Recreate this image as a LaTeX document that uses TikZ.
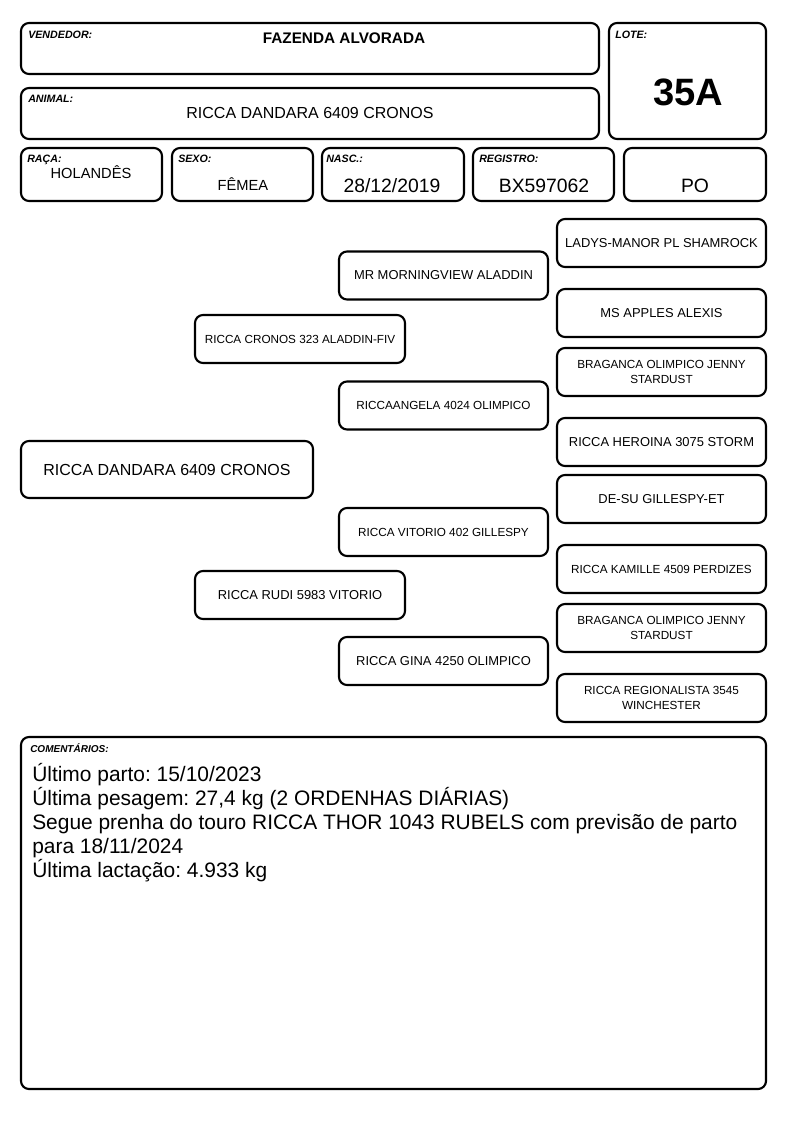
\documentclass[tikz,border=0pt]{standalone}
\usepackage{fontspec}
\setmainfont{Liberation Sans}
\usetikzlibrary{fit}
\frenchspacing

\begin{document}
\begin{tikzpicture}[x=0.75pt,y=-0.75pt,
    box/.style={draw,line width=1.6pt,rounded corners=6pt,inner sep=0pt},
    lbl/.style={font=\fontsize{8}{9}\selectfont\bfseries\itshape,anchor=base west,inner sep=0pt},
    val/.style={font=\fontsize{11}{13}\selectfont,inner sep=0pt},
    bigval/.style={font=\fontsize{14.5}{17}\selectfont,inner sep=0pt},
    ped/.style={box,align=center,minimum width=156.75pt,minimum height=36pt,font=\fontsize{9.7}{11.25}\selectfont},
    pedsm/.style={ped,font=\fontsize{8.8}{11.25}\selectfont}]
            \fill[white] (0,0) rectangle (794,1123);
            \useasboundingbox (0,0) rectangle (794,1123);
            \node[box,fit={(21,23) (599,74)}] (vend) {};
            \node[lbl] (vendl) at (28,39) {VENDEDOR:};
            \node[val,font=\fontsize{11.5}{13}\selectfont\bfseries] (vendv) at (344,38) {FAZENDA ALVORADA};
            \node[box,fit={(609,23) (766,139)}] (lote) {};
            \node[lbl] (lotel) at (615,39) {LOTE:};
            \node[val,font=\fontsize{28.6}{30}\selectfont\bfseries] (lotev) at (688,92) {35A};
            \node[box,fit={(21,88) (599,139)}] (anim) {};
            \node[lbl] (animl) at (28,103) {ANIMAL:};
            \node[val,font=\fontsize{12}{14}\selectfont] (animv) at (310,113) {RICCA DANDARA 6409 CRONOS};
            \node[box,fit={(21,148) (162,201)}] (raca) {};
            \node[lbl] (racal) at (27,163) {RAÇA:};
            \node[val] (racav) at (91,172) {HOLANDÊS};
            \node[box,fit={(172,148) (313,201)}] (sexo) {};
            \node[lbl] (sexol) at (178,163) {SEXO:};
            \node[val] (sexov) at (243,184) {FÊMEA};
            \node[box,fit={(322,148) (464,201)}] (nasc) {};
            \node[lbl] (nascl) at (326,163) {NASC.:};
            \node[bigval] (nascv) at (392,186) {28/12/2019};
            \node[box,fit={(473,148) (614,201)}] (reg) {};
            \node[lbl] (regl) at (479,163) {REGISTRO:};
            \node[bigval] (regv) at (544,186) {BX597062};
            \node[box,fit={(624,148) (766,201)}] (cat) {};
            \node[bigval] (catv) at (695,186) {PO};

            \node[ped,minimum width=219pt,minimum height=42.75pt,font=\fontsize{12}{14}\selectfont] (an) at (167,469.5) {RICCA DANDARA 6409 CRONOS};
            \node[pedsm,minimum width=157.5pt] (s) at (300,339) {RICCA CRONOS 323 ALADDIN-FIV};
            \node[ped,minimum width=157.5pt] (d) at (300,595) {RICCA RUDI 5983 VITORIO};
            \node[ped] (ss) at (443.5,275.5) {MR MORNINGVIEW ALADDIN};
            \node[pedsm] (sd) at (443.5,405.5) {RICCAANGELA 4024 OLIMPICO};
            \node[pedsm] (ds) at (443.5,532) {RICCA VITORIO 402 GILLESPY};
            \node[ped] (dd) at (443.5,661) {RICCA GINA 4250 OLIMPICO};
            \node[ped] (sss) at (661.5,243) {LADYS-MANOR PL SHAMROCK};
            \node[ped] (ssd) at (661.5,313) {MS APPLES ALEXIS};
            \node[pedsm] (sds) at (661.5,372) {BRAGANCA OLIMPICO JENNY\\STARDUST};
            \node[ped] (sdd) at (661.5,442) {RICCA HEROINA 3075 STORM};
            \node[ped] (dss) at (661.5,499) {DE-SU GILLESPY-ET};
            \node[pedsm] (dsd) at (661.5,569) {RICCA KAMILLE 4509 PERDIZES};
            \node[pedsm] (dds) at (661.5,628) {BRAGANCA OLIMPICO JENNY\\STARDUST};
            \node[pedsm] (ddd) at (661.5,698) {RICCA REGIONALISTA 3545\\WINCHESTER};

            \node[box,fit={(21,737) (766,1089)}] (com) {};
            \node[lbl,font=\fontsize{7.5}{9}\selectfont\bfseries\itshape] (coml) at (30,752) {COMENTÁRIOS:};
            \node[anchor=north west,inner sep=0pt,align=left,font=\fontsize{15.7}{18}\selectfont] (comv) at (32,763)
                {Último parto: 15/10/2023\\
                 Última pesagem: 27,4 kg (2 ORDENHAS DIÁRIAS)\\
                 Segue prenha do touro RICCA THOR 1043 RUBELS com previsão de parto\\
                 para 18/11/2024\\
                 Última lactação: 4.933 kg};
        \end{tikzpicture}
\end{document}
